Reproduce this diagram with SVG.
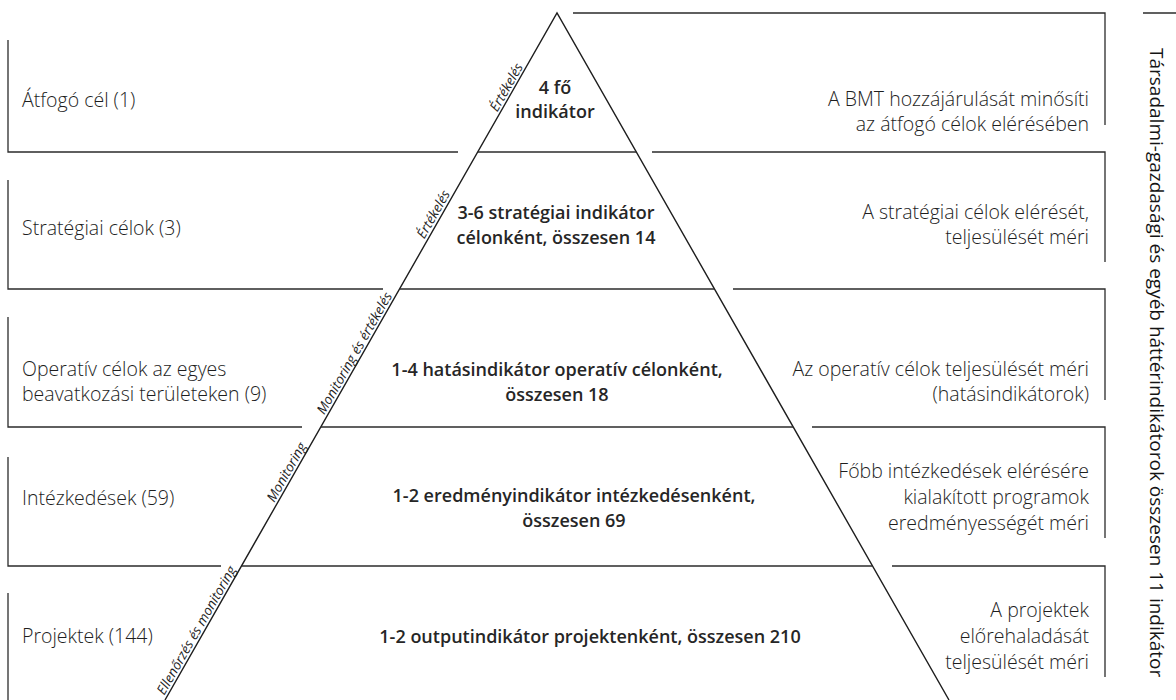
<svg xmlns="http://www.w3.org/2000/svg" width="1176" height="700" viewBox="0 0 1176 700">
  <style>
    .ln { fill: none; stroke: #2b2b2b; stroke-width: 1.3; }
    .edge { fill: none; stroke: #1e1e1e; stroke-width: 1.4; }
    .side { font-family: "Open Sans", "Noto Sans", sans-serif; font-size: 19.5px; font-weight: 300; fill: #1e1e1e; }
    .right { text-anchor: end; }
    .tier { font-family: "Open Sans", "Noto Sans", sans-serif; font-size: 18px; font-weight: 600; fill: #262626; text-anchor: middle; }
    .diag { font-family: "Open Sans", "Noto Sans", sans-serif; font-size: 13.5px; font-style: italic; fill: #1e1e1e; text-anchor: middle; }
    .vert { font-family: "Open Sans", "Noto Sans", sans-serif; font-size: 19px; font-weight: 400; fill: #141414; }
  </style>
  <rect width="1176" height="700" fill="#ffffff"/>

  <!-- pyramid outline and tier dividers -->
  <g id="connectors">
    <polyline class="edge" points="165,700 557,13 949,700"/>
    <line class="ln" x1="478" y1="152" x2="636" y2="152"/>
    <line class="ln" x1="400" y1="289" x2="714" y2="289"/>
    <line class="ln" x1="321" y1="427" x2="793" y2="427"/>
    <line class="ln" x1="242" y1="566" x2="872" y2="566"/>
  </g>

  <!-- tier 1 -->
  <g id="tier-1">
    <path class="ln" d="M8,40 V152 H458"/>
    <text class="side" x="22" y="107">Átfogó cél (1)</text>
    <text class="diag" transform="translate(513,91) rotate(-60.3)" y="-3">Értékelés</text>
    <text class="tier" x="555" y="94">4 fő</text>
    <text class="tier" x="555" y="118">indikátor</text>
    <path class="ln" d="M573,13 H1105 V125"/>
    <text class="side right" x="1089" y="106">A BMT hozzájárulását minősíti</text>
    <text class="side right" x="1089" y="131">az átfogó célok elérésében</text>
  </g>

  <!-- tier 2 -->
  <g id="tier-2">
    <path class="ln" d="M8,180 V289 H383"/>
    <text class="side" x="22" y="235">Stratégiai célok (3)</text>
    <text class="diag" transform="translate(440,218) rotate(-60.3)" y="-3">Értékelés</text>
    <text class="tier" x="556" y="219">3-6 stratégiai indikátor</text>
    <text class="tier" x="556" y="244">célonként, összesen 14</text>
    <path class="ln" d="M652,152 H1105 V262"/>
    <text class="side right" x="1089" y="219">A stratégiai célok elérését,</text>
    <text class="side right" x="1089" y="244">teljesülését méri</text>
  </g>

  <!-- tier 3 -->
  <g id="tier-3">
    <path class="ln" d="M8,317 V427 H302"/>
    <text class="side" x="22" y="376">Operatív célok az egyes</text>
    <text class="side" x="22" y="401">beavatkozási területeken (9)</text>
    <text class="diag" transform="translate(361,357) rotate(-60.3)" y="-3">Monitoring és értékelés</text>
    <text class="tier" x="557" y="376">1-4 hatásindikátor operatív célonként,</text>
    <text class="tier" x="557" y="401">összesen 18</text>
    <path class="ln" d="M733,289 H1105 V400"/>
    <text class="side right" x="1089" y="376">Az operatív célok teljesülését méri</text>
    <text class="side right" x="1089" y="401">(hatásindikátorok)</text>
  </g>

  <!-- tier 4 -->
  <g id="tier-4">
    <path class="ln" d="M8,457 V566 H221"/>
    <text class="side" x="22" y="505">Intézkedések (59)</text>
    <text class="diag" transform="translate(293,476) rotate(-60.3)" y="-3">Monitoring</text>
    <text class="tier" x="574" y="502">1-2 eredményindikátor intézkedésenként,</text>
    <text class="tier" x="574" y="527">összesen 69</text>
    <path class="ln" d="M812,427 H1105 V538"/>
    <text class="side right" x="1089" y="478">Főbb intézkedések elérésére</text>
    <text class="side right" x="1089" y="504">kialakított programok</text>
    <text class="side right" x="1089" y="530">eredményességét méri</text>
  </g>

  <!-- tier 5 -->
  <g id="tier-5">
    <path class="ln" d="M8,593 V700"/>
    <text class="side" x="22" y="643">Projektek (144)</text>
    <text class="diag" transform="translate(203,634) rotate(-60.3)" y="-3">Ellenőrzés és monitoring</text>
    <text class="tier" x="590" y="643">1-2 outputindikátor projektenként, összesen 210</text>
    <path class="ln" d="M892,566 H1105 V677"/>
    <text class="side right" x="1089" y="617">A projektek</text>
    <text class="side right" x="1089" y="643">előrehaladását</text>
    <text class="side right" x="1089" y="669">teljesülését méri</text>
  </g>

  <!-- background indicators -->
  <g id="background-indicators">
    <line class="ln" x1="1143" y1="13" x2="1176" y2="13"/>
    <text class="vert" transform="translate(1150,48) rotate(90)">Társadalmi-gazdasági és egyéb háttérindikátorok összesen 11 indikátor</text>
  </g>
</svg>
